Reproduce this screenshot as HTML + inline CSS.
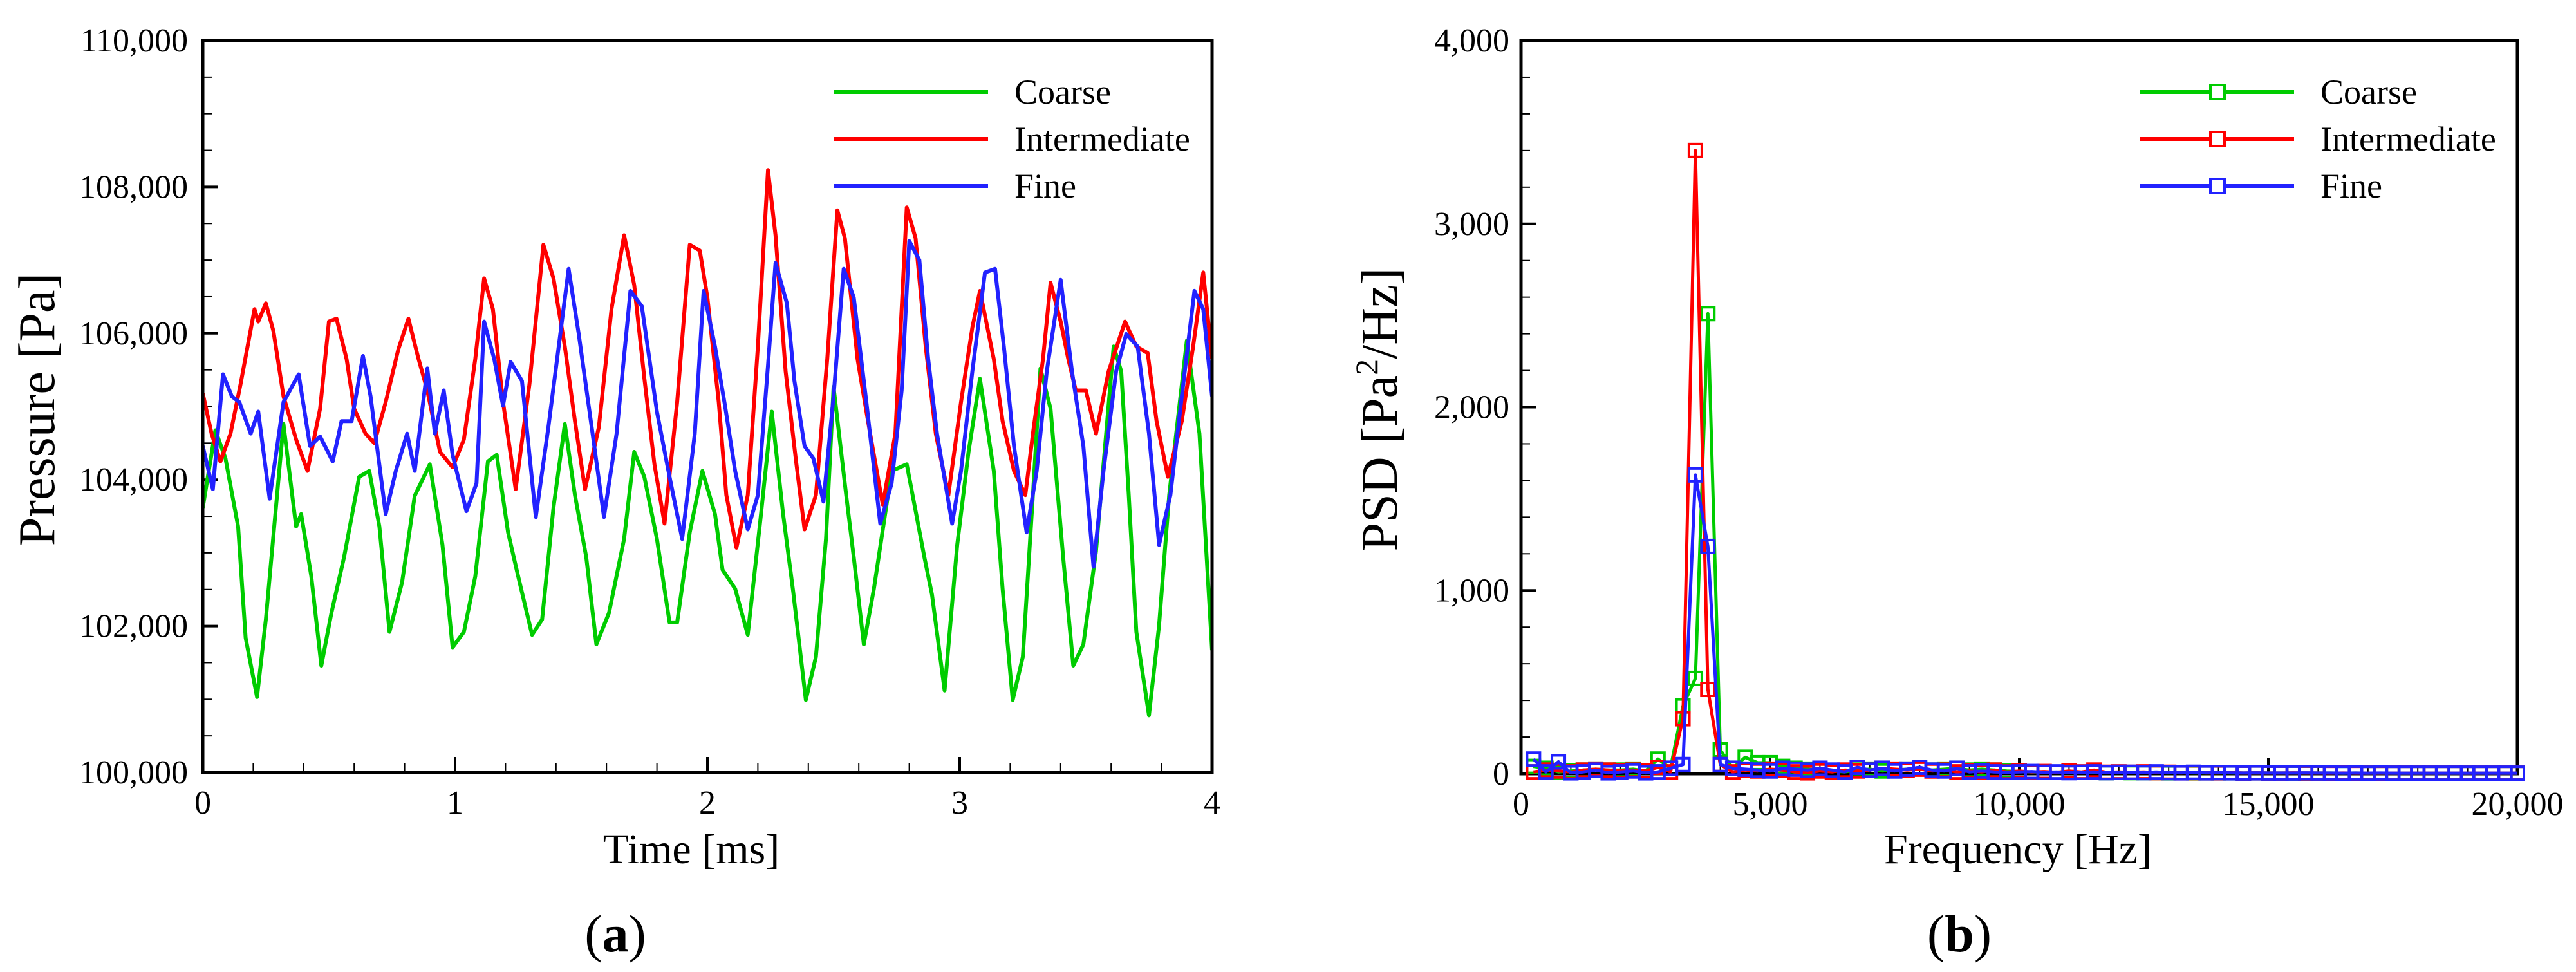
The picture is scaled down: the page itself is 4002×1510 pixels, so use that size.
<!DOCTYPE html>
<html><head><meta charset="utf-8"><style>
html,body{margin:0;padding:0;background:#fff;}
svg{display:block;font-family:"Liberation Serif",serif;}
</style></head><body>
<svg id="chart" width="4002" height="1510" viewBox="0 0 4002 1510" xmlns="http://www.w3.org/2000/svg">
<rect width="4002" height="1510" fill="#fff"/>
<g id="panelA"></g>
<g id="panelB"></g>
</svg>
<script>
// ---------- Panel (a) data: time [ms] / pressure [Pa] ----------
const coarseT=[0,.05,.09,.14,.17,.215,.25,.32,.37,.39,.43,.47,.51,.56,.62,.66,.70,.74,.79,.84,.90,.95,.99,1.035,1.08,1.13,1.165,1.21,1.25,1.305,1.345,1.39,1.435,1.475,1.52,1.56,1.61,1.67,1.71,1.75,1.80,1.85,1.88,1.93,1.98,2.03,2.06,2.11,2.16,2.21,2.255,2.30,2.34,2.39,2.43,2.47,2.50,2.55,2.58,2.62,2.66,2.73,2.79,2.86,2.89,2.94,2.99,3.035,3.08,3.135,3.17,3.21,3.25,3.29,3.32,3.36,3.41,3.45,3.49,3.54,3.61,3.64,3.67,3.70,3.75,3.79,3.83,3.90,3.95,4.0];
const coarseP=[103616,104675,104290,103360,101840,101030,102090,104760,103360,103530,102680,101460,102180,102940,104040,104120,103360,101920,102600,103780,104210,103110,101710,101920,102680,104250,104340,103280,102680,101880,102090,103620,104760,103790,102940,101750,102180,103190,104380,104040,103190,102050,102050,103280,104120,103530,102770,102510,101880,103450,104930,103530,102470,100990,101580,103190,105270,103790,102940,101750,102510,104120,104210,102940,102430,101120,103110,104380,105380,104120,102510,100990,101580,103790,105520,104970,102940,101460,101750,103020,105820,105480,103790,101920,100780,102010,103790,105900,104630,101670];
const interT=[0,.035,.07,.11,.15,.205,.22,.25,.28,.32,.37,.415,.465,.50,.53,.57,.60,.645,.68,.725,.775,.815,.855,.89,.94,.99,1.035,1.08,1.115,1.15,1.19,1.24,1.295,1.35,1.39,1.435,1.475,1.515,1.57,1.62,1.67,1.71,1.75,1.79,1.83,1.88,1.93,1.97,2.00,2.045,2.075,2.115,2.16,2.20,2.24,2.27,2.31,2.35,2.385,2.43,2.475,2.515,2.545,2.595,2.645,2.695,2.745,2.79,2.825,2.865,2.905,2.955,3.005,3.05,3.08,3.135,3.17,3.215,3.26,3.29,3.33,3.36,3.40,3.43,3.46,3.50,3.54,3.59,3.655,3.70,3.745,3.78,3.825,3.88,3.925,3.965,4.0];
const interP=[105180,104630,104250,104630,105310,106330,106160,106410,106030,105140,104550,104120,104970,106160,106200,105650,104970,104630,104500,105060,105780,106200,105650,105220,104380,104170,104550,105650,106750,106330,105060,103870,105310,107210,106750,105820,104800,103870,104720,106330,107340,106660,105390,104210,103400,105060,107210,107130,106490,105060,103790,103070,103790,105820,108230,107340,105480,104290,103320,103790,105650,107680,107300,105650,104630,103660,104630,107720,107300,105820,104630,103790,105060,106080,106580,105650,104800,104120,103790,104630,105650,106690,106160,105650,105220,105220,104630,105480,106160,105820,105730,104800,104040,104800,105820,106830,105650];
const fineT=[0,.04,.08,.115,.145,.19,.22,.265,.32,.38,.425,.465,.515,.55,.59,.635,.665,.725,.765,.81,.84,.89,.92,.955,.99,1.045,1.085,1.115,1.155,1.19,1.22,1.265,1.32,1.37,1.45,1.49,1.545,1.59,1.64,1.695,1.74,1.80,1.85,1.90,1.95,1.985,2.03,2.07,2.11,2.16,2.20,2.24,2.27,2.315,2.345,2.385,2.42,2.46,2.50,2.54,2.58,2.63,2.685,2.73,2.77,2.80,2.84,2.875,2.91,2.97,3.005,3.05,3.10,3.14,3.175,3.215,3.265,3.305,3.345,3.40,3.445,3.49,3.53,3.57,3.62,3.66,3.705,3.75,3.79,3.835,3.88,3.93,3.965,4.0];
const fineP=[104460,103870,105440,105140,105060,104630,104930,103740,105060,105440,104460,104590,104250,104800,104800,105690,105140,103530,104120,104630,104120,105520,104630,105220,104340,103570,103950,106160,105650,105010,105610,105350,103490,104720,106880,105990,104630,103490,104630,106580,106370,104930,104040,103190,104630,106580,105820,105010,104120,103320,103790,105560,106960,106410,105350,104460,104290,103700,105140,106880,106490,105060,103400,103950,105220,107260,107000,105650,104630,103400,104120,105480,106830,106880,105820,104460,103280,104120,105480,106730,105480,104460,102810,104120,105480,105990,105820,104630,103110,103790,105140,106580,106330,105140];
const aXTicks=[0,1,2,3,4];
const aYTicks=[100000,102000,104000,106000,108000,110000];

// ---------- Panel (b) data: frequency [Hz] / PSD ----------
const psdFreq=[250,500,750,1000,1250,1500,1750,2000,2250,2500,2750,3000,3250,3500,3750,4000,4250,4500,4750,5000,5250,5500,5750,6000,6250,6500,6750,7000,7250,7500,7750,8000,8250,8500,8750,9000,9250,9500,9750,10000,10250,10500,10750,11000,11250,11500,11750,12000,12250,12500,12750,13000,13250,13500,13750,14000,14250,14500,14750,15000,15250,15500,15750,16000,16250,16500,16750,17000,17250,17500,17750,18000,18250,18500,18750,19000,19250,19500,19750,20000];
const psdCoarse=[40,30,10,15,20,25,20,20,25,15,80,30,370,520,2510,130,30,90,60,60,40,30,25,20,15,10,20,25,15,20,25,30,20,25,30,20,25,20,15,12,10,10,8,10,8,8,6,8,6,6,6,5,6,5,5,5,5,4,5,4,4,4,4,4,4,3,4,3,3,3,3,3,3,3,3,3,3,3,3,3];
const psdInter=[10,20,15,10,20,25,20,15,20,15,35,10,300,3400,460,50,10,20,15,25,20,10,5,15,10,20,15,20,30,25,20,25,15,20,10,15,10,20,10,15,10,12,8,15,10,20,8,10,8,10,6,8,5,6,5,5,6,4,5,4,4,5,4,4,3,4,3,3,3,3,3,3,3,3,3,3,3,3,3,3];
const psdFine=[80,10,65,5,10,20,5,10,15,5,10,30,50,1630,1240,50,30,25,20,15,30,25,20,30,20,10,35,20,30,15,25,35,20,15,30,10,15,10,8,10,12,8,10,6,8,10,6,8,8,6,10,6,5,8,5,6,5,4,5,4,4,4,5,4,4,3,4,3,4,3,3,3,3,3,3,3,3,3,3,3];
const bXTicks=[0,5000,10000,15000,20000];
const bYTicks=[0,1000,2000,3000,4000];
const seriesNames=["Coarse","Intermediate","Fine"];
const seriesColors=["#00cc00","#ff0000","#2222ff"];

const NS="http://www.w3.org/2000/svg";
function mk(parent,tag,attrs,text){
  const e=document.createElementNS(NS,tag);
  for(const k in attrs)e.setAttribute(k,attrs[k]);
  if(text!==undefined)e.textContent=text;
  parent.appendChild(e);return e;
}
function fmt(v){return v.toLocaleString('en-US');}

function drawAxes(g,box,xs,ys,xTicks,yTicks,xMinor,yMinor,xLab){
  for(let v=xTicks[0];v<=xTicks[xTicks.length-1]+1e-9;v+=xMinor){
    const t=mk(g,'line',{x1:xs(v),x2:xs(v),y1:box.b,y2:box.b-14,stroke:'#000','stroke-width':2});
    
  }
  for(let v=yTicks[0];v<=yTicks[yTicks.length-1]+1e-9;v+=yMinor){
    const t=mk(g,'line',{x1:box.l,x2:box.l+14,y1:ys(v),y2:ys(v),stroke:'#000','stroke-width':2});
    
  }
  xTicks.forEach(v=>{
    const t=mk(g,'line',{x1:xs(v),x2:xs(v),y1:box.b,y2:box.b-24,stroke:'#000','stroke-width':4});
    
    const l=mk(g,'text',{x:xs(v),y:box.b+64,'font-size':52,'text-anchor':'middle'},fmt(v));
    
  });
  yTicks.forEach(v=>{
    const t=mk(g,'line',{x1:box.l,x2:box.l+24,y1:ys(v),y2:ys(v),stroke:'#000','stroke-width':4});
    
    const l=mk(g,'text',{x:box.yl,y:ys(v)+17,'font-size':52,'text-anchor':'end'},fmt(v));
    
  });
  const xt=mk(g,'text',{x:box.xtx,y:1341,'font-size':66,'text-anchor':'middle'},xLab);
  
  const yt=mk(g,'text',{x:0,y:0,'font-size':80,'text-anchor':'middle',transform:`translate(${box.ytx},${box.yty}) rotate(-90)`});
  
  return yt;
}
function frame(g,box){
  const f=mk(g,'rect',{x:box.l,y:box.t,width:box.r-box.l,height:box.b-box.t,fill:'none',stroke:'#000','stroke-width':5});
  
}

// ---------- Panel A ----------
(function(){
  const g=document.getElementById('panelA');
  const box={l:315,r:1883,t:63,b:1200,yl:292,xtx:1074,ytx:84,yty:636};
  const xs=v=>box.l+(v-0)/4*(box.r-box.l);
  const ys=v=>box.b-(v-100000)/10000*(box.b-box.t);
  const yt=drawAxes(g,box,xs,ys,aXTicks,aYTicks,0.2,500,'Time [ms]');
  yt.textContent='Pressure [Pa]';
  const sets=[[coarseT,coarseP],[interT,interP],[fineT,fineP]];
  const clip=mk(g,'clipPath',{id:'clipA'});mk(clip,'rect',{x:box.l,y:box.t,width:box.r-box.l,height:box.b-box.t});
  sets.forEach((s,i)=>{
    const pts=s[0].map((t,j)=>xs(t).toFixed(1)+','+ys(s[1][j]).toFixed(1)).join(' ');
    const p=mk(g,'polyline',{points:pts,fill:'none',stroke:seriesColors[i],'stroke-width':6,'stroke-linejoin':'round','clip-path':'url(#clipA)'});
    
    
  });
  frame(g,box);
  const rows=[143,216,289];
  seriesNames.forEach((n,i)=>{
    const lg=mk(g,'g',{});
    
    
    mk(lg,'line',{x1:1296,x2:1535,y1:rows[i],y2:rows[i],stroke:seriesColors[i],'stroke-width':6});
    mk(lg,'text',{x:1576,y:rows[i]+18,'font-size':54},n);
  });
  const cap=mk(g,'text',{x:956,y:1478,'font-size':82,'text-anchor':'middle'});
  
  cap.innerHTML='(<tspan font-weight="bold">a</tspan>)';
})();

// ---------- Panel B ----------
(function(){
  const g=document.getElementById('panelB');
  const box={l:2363,r:3911,t:63,b:1202,yl:2345,xtx:3135,ytx:2170,yty:636};
  const xs=v=>box.l+v/20000*(box.r-box.l);
  const ys=v=>box.b-v/4000*(box.b-box.t);
  const yt=drawAxes(g,box,xs,ys,bXTicks,bYTicks,1000,200,'Frequency [Hz]');
  yt.innerHTML='PSD [Pa<tspan dy="-30" font-size="50">2</tspan><tspan dy="30">/Hz]</tspan>';
  frame(g,box);
  const sets=[psdCoarse,psdInter,psdFine];
  sets.forEach((vals,i)=>{
    const sg=mk(g,'g',{});
    
    
    const pts=psdFreq.map((f,j)=>xs(f).toFixed(1)+','+ys(vals[j]).toFixed(1)).join(' ');
    const pl=mk(sg,'polyline',{points:pts,fill:'none',stroke:seriesColors[i],'stroke-width':5,'stroke-linejoin':'round'});
    
    
    psdFreq.forEach((f,j)=>{
      const m=mk(sg,'rect',{x:xs(f)-10,y:ys(vals[j])-10,width:20,height:20,fill:'none',stroke:seriesColors[i],'stroke-width':4});
      
      
    });
  });
  const rows=[143,216,289];
  seriesNames.forEach((n,i)=>{
    const lg=mk(g,'g',{});
    
    
    mk(lg,'line',{x1:3325,x2:3564,y1:rows[i],y2:rows[i],stroke:seriesColors[i],'stroke-width':6});
    mk(lg,'rect',{x:3434,y:rows[i]-11,width:22,height:22,fill:'#fff',stroke:seriesColors[i],'stroke-width':4});
    mk(lg,'text',{x:3605,y:rows[i]+18,'font-size':54},n);
  });
  const cap=mk(g,'text',{x:3044,y:1478,'font-size':82,'text-anchor':'middle'});
  
  cap.innerHTML='(<tspan font-weight="bold">b</tspan>)';
})();
</script>
</body></html>
